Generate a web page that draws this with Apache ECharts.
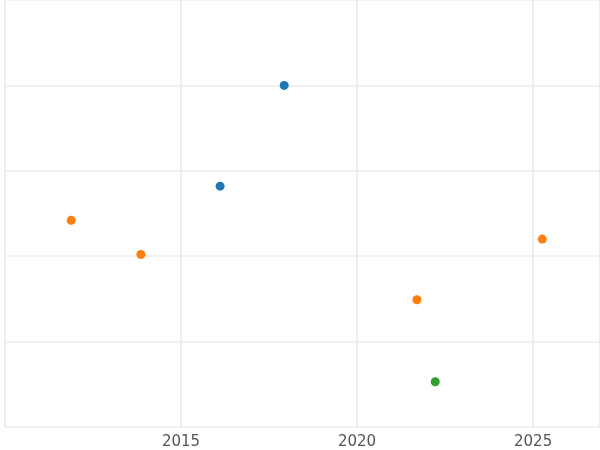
<!DOCTYPE html>
<html>
<head>
<meta charset="utf-8">
<script src="https://cdn.jsdelivr.net/npm/echarts@6/dist/echarts.min.js"></script>
<style>html,body{margin:0;padding:0;background:#fff}#chart{width:600px;height:450px}</style>
</head>
<body>
<div id="chart"></div>
<script>
// values: [year, value]
const blueData = [[2017.93, 4.0], [2016.11, 2.82]];
const orangeData = [[2011.88, 2.42], [2013.86, 2.02], [2021.70, 1.49], [2025.26, 2.20]];
const greenData = [[2022.22, 0.53]];
const seriesNames = ['blue', 'orange', 'green'];
const colors = ['#1f77b4', '#ff7f0e', '#2ca02c'];

const chart = echarts.init(document.getElementById('chart'));

const shared = { type: 'scatter', symbolSize: 9, itemStyle: { opacity: 1 } };

chart.setOption({
  animation: false,
  color: colors,
  grid: { left: 5, right: 0, top: 0, bottom: 23, containLabel: false, outerBoundsMode: 'none' },
  textStyle: { fontFamily: 'DejaVu Sans' },
  xAxis: {
    type: 'value', min: 2010, max: 2026.9, interval: 5,
    axisLine: { show: false }, axisTick: { show: false },
    axisLabel: { color: '#555', fontSize: 15, margin: 8,
      formatter: v => (v % 5 === 0 && v !== 2010) ? String(v) : '' },
    splitLine: { lineStyle: { color: '#e8e8e8', width: 1.5 } }
  },
  yAxis: {
    type: 'value', min: 0, max: 5, interval: 1,
    axisLine: { show: false }, axisTick: { show: false },
    axisLabel: { show: false },
    splitLine: { lineStyle: { color: '#ececec', width: 1.5 } }
  },
  series: [
    { ...shared, name: seriesNames[0], data: blueData },
    { ...shared, name: seriesNames[1], data: orangeData },
    { ...shared, name: seriesNames[2], data: greenData }
  ]
});
</script>
</body>
</html>
